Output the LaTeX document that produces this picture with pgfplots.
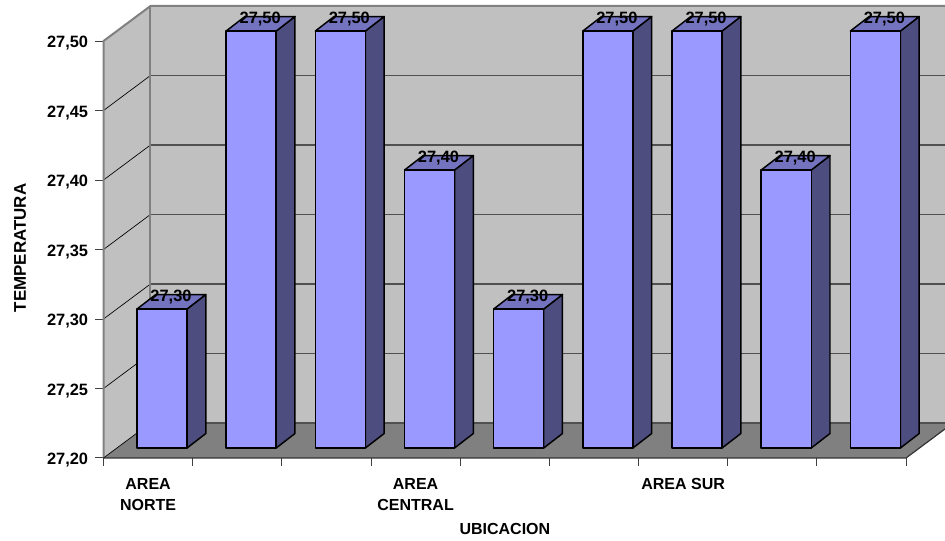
\documentclass[border=0pt]{standalone}
\usepackage{fontspec}
\setmainfont{Liberation Sans}
\usepackage{pgfplots}
\pgfplotsset{compat=1.18}
\definecolor{barfront}{HTML}{9999FF}
\definecolor{barside}{HTML}{4D4D80}
\definecolor{bartop}{HTML}{7373BF}
\definecolor{wall}{HTML}{C0C0C0}
\definecolor{floorgray}{HTML}{808080}
\definecolor{gridgray}{HTML}{505050}

% depth of the walls and of the bars, in axis units
\def\wallDx{0.527}
\def\wallDy{0.0252}
\def\barDx{0.21}
\def\barDy{0.0104}
\def\barW{0.561}
\def\barBase{27.2072}

% one gridline: diagonal on the side wall, horizontal on the back wall
\newcommand{\GridLevel}[1]{%
  \pgfmathsetmacro{\gy}{#1+\wallDy}%
  \addplot[black,line width=0.5pt,forget plot] coordinates {(0,#1) (\wallDx,\gy)};
  \addplot[gridgray,line width=0.9pt,forget plot] coordinates {(\wallDx,\gy) (9.437,\gy)};
}
% one bar: front face, side face and top face; #1 left edge, #2 temperature
\newcommand{\Column}[2]{%
  \pgfmathsetmacro{\xr}{#1+\barW}%
  \pgfmathsetmacro{\xb}{#1+\barW+\barDx}%
  \pgfmathsetmacro{\xc}{#1+\barDx}%
  \pgfmathsetmacro{\yt}{#2+0.0072}%
  \pgfmathsetmacro{\ytb}{#2+0.0072+\barDy}%
  \pgfmathsetmacro{\ybb}{\barBase+\barDy}%
  \addplot[draw=black,line width=1.1pt,line join=round,fill=barside,forget plot] coordinates {(\xr,\barBase) (\xb,\ybb) (\xb,\ytb) (\xr,\yt)} -- cycle;
  \addplot[draw=black,line width=1.1pt,line join=round,fill=bartop,forget plot] coordinates {(#1,\yt) (\xc,\ytb) (\xb,\ytb) (\xr,\yt)} -- cycle;
  \addplot[draw=black,line width=1.1pt,line join=round,fill=barfront,forget plot] coordinates {(#1,\barBase) (\xr,\barBase) (\xr,\yt) (#1,\yt)} -- cycle;
}

\begin{document}
\begin{tikzpicture}[x=1pt,y=1pt]
\useasboundingbox (0,0) rectangle (708.75,405.75);
\fill[white] (0,0) rectangle (708.75,405.75);
\begin{axis}[
  at={(77.625pt,62.25pt)}, anchor=south west,
  scale only axis, width=631.125pt, height=339pt,
  xmin=0, xmax=9.437, ymin=27.2, ymax=27.5252,
  clip=false,
  axis line style={draw=none},
  tick align=outside, tick pos=left,
  major tick length=6pt,
  every tick/.style={color=black!75,line width=0.75pt},
  xtick={0,1,2,3,4,5,6,7,8,9}, xticklabels={},
  extra x ticks={0.5,3.5,6.5},
  extra x tick labels={{AREA\\NORTE},{AREA\\CENTRAL},{AREA SUR}},
  extra x tick style={major tick length=0pt,
    tick label style={align=center,yshift=-11.5pt}},
  ytick={27.2,27.25,27.3,27.35,27.4,27.45,27.5},
  tick label style={font=\fontsize{12}{15.75}\selectfont\bfseries},
  y tick label style={font=\fontsize{12.3}{15.75}\selectfont\bfseries,xshift=-2pt,yshift=-1.8pt},
  /pgf/number format/assume math mode=true,
  /pgf/number format/use comma,
  /pgf/number format/fixed,
  /pgf/number format/fixed zerofill,
  /pgf/number format/precision=2,
  xlabel={UBICACION}, ylabel={TEMPERATURA},
  xlabel style={at={(rel axis cs:0.477,-0.157)},anchor=center,font=\fontsize{12}{14}\selectfont\bfseries},
  ylabel style={at={(rel axis cs:-0.0992,0.4646)},anchor=center,font=\fontsize{12.7}{14}\selectfont\bfseries},
]
% back wall, side wall and floor
\addplot[draw=none,fill=wall,forget plot] coordinates {(0.527,27.5252) (9.437,27.5252) (9.437,27.2252) (0.527,27.2252)} -- cycle;
\addplot[draw=none,fill=wall,forget plot] coordinates {(0,27.2) (0.527,27.2252) (0.527,27.5252) (0,27.5)} -- cycle;
\addplot[draw=none,fill=floorgray,forget plot] coordinates {(0,27.2) (9,27.2) (9.437,27.2209) (9.437,27.2252) (0.527,27.2252)} -- cycle;

\GridLevel{27.25}
\GridLevel{27.30}
\GridLevel{27.35}
\GridLevel{27.40}
\GridLevel{27.45}
\addplot[gridgray,line width=0.9pt,forget plot] coordinates {(0.527,27.2252) (9.437,27.2252)};

% frame of the walls
\addplot[floorgray,line width=1.5pt,line join=round,forget plot] coordinates {(0,27.2) (0,27.5) (0.527,27.5252) (9.437,27.5252)};
\addplot[floorgray,line width=1.5pt,forget plot] coordinates {(0.527,27.2252) (0.527,27.5252)};
\addplot[black!80,line width=0.9pt,forget plot] coordinates {(0,27.2) (9,27.2) (9.437,27.2209)};
\addplot[black,line width=0.5pt,forget plot] coordinates {(0,27.2) (0.527,27.2252)};

% temperature per location
\Column{0.376}{27.30}
\Column{1.376}{27.50}
\Column{2.376}{27.50}
\Column{3.376}{27.40}
\Column{4.376}{27.30}
\Column{5.376}{27.50}
\Column{6.376}{27.50}
\Column{7.376}{27.40}
\Column{8.376}{27.50}

% value labels on the top faces
\addplot[draw=none,mark=none,
  nodes near coords,
  point meta=explicit,
  nodes near coords style={anchor=center,inner sep=0pt,text=black,
    font=\fontsize{12.3}{14}\selectfont\bfseries},
] table[meta=v] {
x      y       v
0.757  27.3155 27.30
1.757  27.5155 27.50
2.757  27.5155 27.50
3.757  27.4155 27.40
4.757  27.3155 27.30
5.757  27.5155 27.50
6.757  27.5155 27.50
7.757  27.4155 27.40
8.757  27.5155 27.50
};
\end{axis}
\end{tikzpicture}
\end{document}
